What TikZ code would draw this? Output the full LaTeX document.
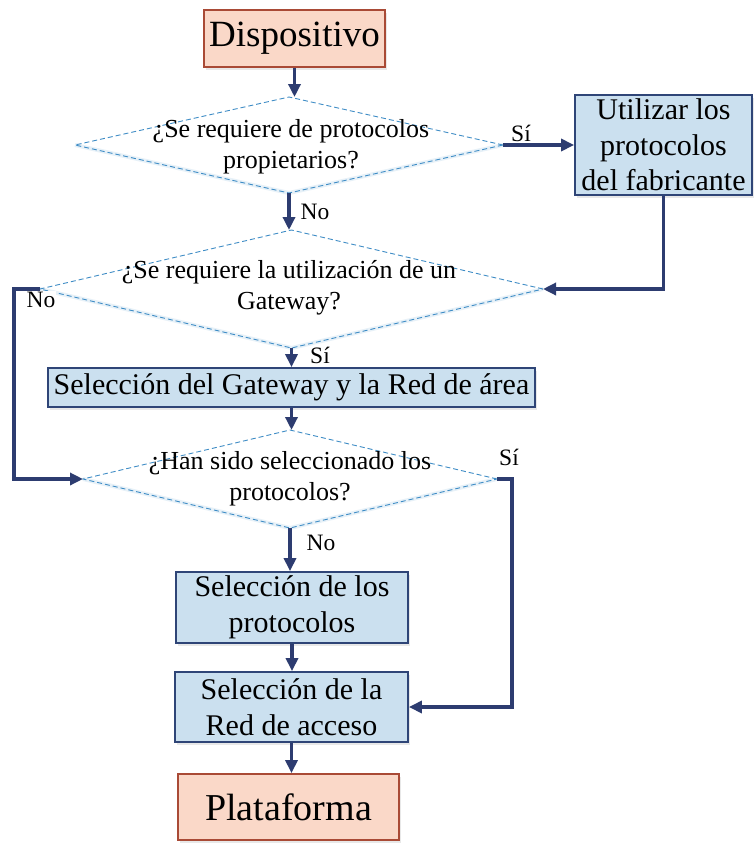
\documentclass[tikz,border=0pt]{standalone}
\usepackage{fontspec}
\setmainfont{Liberation Serif}
\usetikzlibrary{shapes.geometric,arrows.meta,shadows}
\definecolor{salmonfill}{HTML}{FAD8C8}
\definecolor{salmonline}{HTML}{A94A36}
\definecolor{bluefill}{HTML}{CBE0EF}
\definecolor{blueline}{HTML}{2F4577}
\definecolor{flow}{HTML}{2D3C70}
\definecolor{dashblue}{HTML}{3F8DC6}
\begin{document}
\begin{tikzpicture}[x=1pt,y=-1pt,
  softshadow/.style={drop shadow={opacity=0.18,shadow xshift=2pt,shadow yshift=-2.5pt}},
  endbox/.style={draw=salmonline, fill=salmonfill, line width=1.8pt, inner sep=0pt,
    align=center, font=\fontsize{37}{40}\selectfont, softshadow},
  procbox/.style={draw=blueline, fill=bluefill, line width=1.8pt, inner sep=0pt,
    align=center, font=\fontsize{30}{35.5}\selectfont, softshadow},
  decision/.style={diamond, draw=dashblue, dash pattern=on 5pt off 3pt, line width=0.9pt,
    inner sep=0pt, outer sep=0pt},
  glow/.style={draw=dashblue, opacity=0.12, line width=4pt, yshift=-2pt},
  qtext/.style={align=center, font=\fontsize{26}{31}\selectfont, inner sep=0pt},
  flowline/.style={draw=flow, line width=3.3pt},
  flowarrow/.style={flowline, -{Triangle[length=13pt,width=12pt]}},
  answer/.style={font=\fontsize{23.5}{25}\selectfont, fill=white, inner sep=1pt}
]
\useasboundingbox[fill=white] (0,0) rectangle (754,844);

% terminal and process boxes
\node[endbox, minimum width=181pt, minimum height=57pt] (disp) at (294.5,38.5) {Dispositivo};
\node[procbox, minimum width=177pt, minimum height=100pt] (util) at (663.5,145)
  {Utilizar los\\protocolos\\del fabricante};
\node[procbox, minimum width=487pt, minimum height=39pt] (sel1) at (291.5,387.5)
  {Selección del Gateway y la Red de área};
\node[procbox, minimum width=232pt, minimum height=71pt] (proto) at (292,607.5)
  {Selección de los\\protocolos};
\node[procbox, minimum width=233pt, minimum height=70pt] (acc) at (291.5,707)
  {Selección de la\\Red de acceso};
\node[endbox, minimum width=221pt, minimum height=66pt, font=\fontsize{38}{40}\selectfont]
  (plat) at (288.5,807) {Plataforma};

% decisions
\node[decision, minimum width=428pt, minimum height=96pt] (d1) at (289,145) {};
\node[decision, minimum width=503pt, minimum height=118pt] (d2) at (291.5,289) {};
\node[decision, minimum width=414pt, minimum height=98pt] (d3) at (290,479) {};

% soft haze under the lower edges of the decisions
\foreach \d in {d1,d2,d3}
  \draw[glow] (\d.west) -- (\d.south) -- (\d.east);

\node[qtext] (q1) at (291,147) {¿Se requiere de protocolos\\propietarios?};
\node[qtext] (q2) at (289,288) {¿Se requiere la utilización de un\\Gateway?};
\node[qtext] (q3) at (290,479) {¿Han sido seleccionado los\\protocolos?};

% rails for the side branches
\coordinate (lrail) at (14,0);
\coordinate (rrail) at (512,0);

% connectors
\draw[flowarrow] (disp.south) -- (disp.south |- d1.north);
\draw[flowarrow] (d1.east) -- (util.west |- d1.east);
\draw[flowarrow] (d1.south) -- (d2.north -| d1.south);
\draw[flowarrow] (util.south) |- (d2.east);
\draw[flowarrow] (d2.west) -- (d2.west -| lrail) -- (d3.west -| lrail) -- (d3.west);
\draw[flowarrow] (d2.south -| sel1.north) -- (sel1.north);
\draw[flowarrow] (sel1.south) -- (sel1.south |- d3.north);
\draw[flowarrow] (d3.east) -- (d3.east -| rrail) -- (acc.east -| rrail) -- (acc.east);
\draw[flowarrow] (d3.south) -- (d3.south |- proto.north);
\draw[flowarrow] (proto.south) -- (proto.south |- acc.north);
\draw[flowarrow] (acc.south) -- (acc.south |- plat.north);

% branch labels
\node[answer] (s1) at (521,133) {Sí};
\node[answer] (n1) at (315,212) {No};
\node[answer] (n2) at (41,300) {No};
\node[answer] (s2) at (320,355) {Sí};
\node[answer] (s3) at (509,457) {Sí};
\node[answer] (n3) at (321,543) {No};
\end{tikzpicture}
\end{document}
